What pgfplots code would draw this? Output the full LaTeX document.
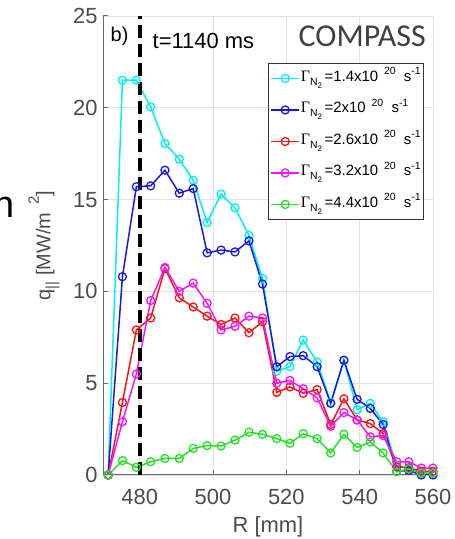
\documentclass[border=0pt]{standalone}
\usepackage{fontspec}
\setmainfont{Liberation Sans}
\newfontfamily\carlito{Carlito}
\newfontfamily\serifgr{Liberation Serif}
\usepackage{pgfplots}
\pgfplotsset{compat=1.18}

\definecolor{ticgray}{RGB}{75,75,75}
\definecolor{axgray}{RGB}{105,105,105}
\definecolor{gridgray}{RGB}{226,226,226}
\definecolor{mcyan}{RGB}{0,240,240}
\definecolor{mblue}{RGB}{25,25,230}
\definecolor{mred}{RGB}{250,20,20}
\definecolor{mmag}{RGB}{245,20,245}
\definecolor{mgreen}{RGB}{35,225,35}

% legend entry: Gamma_{N_2} = <value> x10^20 s^-1
\newcommand{\gn}[1]{{\serifgr\fontsize{16}{18}\selectfont Γ}\raisebox{-0.5ex}{\fontsize{10.5}{11}\selectfont N\raisebox{-0.55ex}{\fontsize{8}{9}\selectfont 2}}\,=#1x10\raisebox{0.85ex}{\fontsize{10.5}{11}\selectfont\ \ 20}\ \ s\raisebox{0.85ex}{\fontsize{10.5}{11}\selectfont -1}}

\pgfplotstableread{
R      cy     bl     rd     mg     gr
471.4  0      0      0      0      0
475.3  21.5   10.8   3.95   2.9    0.78
479.1  21.5   15.7   7.9    5.5    0.42
483.0  20.05  15.75  8.55   9.5    0.72
486.9  18.05  16.6   11.25  11.3   0.9
490.8  17.2   15.35  9.65   10.0   0.9
494.6  16.05  15.6   9.15   10.45  1.45
498.4  13.75  12.1   8.65   9.35   1.6
502.2  15.3   12.25  8.2    7.9    1.58
506.0  14.55  12.15  8.55   8.1    1.9
509.8  13.05  12.75  7.75   8.65   2.33
513.5  10.7   10.4   8.35   8.55   2.22
517.4  5.65   5.9    4.5    5.0    1.98
521.0  5.9    6.45   4.8    5.15   1.73
524.6  7.35   6.5    4.45   4.7    2.25
528.4  6.15   5.9    4.65   4.2    1.98
532.1  3.95   3.9    2.75   2.65   1.2
535.7  6.25   6.25   4.15   3.4    2.22
539.3  3.55   4.12   3.0    3.0    1.5
542.9  3.9    3.63   2.8    2.08   1.8
546.4  2.9    2.75   2.25   2.15   1.2
550.1  0.5    0.2    0.45   0.72   0.18
553.4  0.35   0.25   0.4    0.72   0.33
556.8  0.1    0.0    0.2    0.38   0.1
560.0  0.1    0.0    0.2    0.38   0.1
}\qdata

\begin{document}
\begin{tikzpicture}[x=1bp,y=1bp]
\begin{axis}[
    at={(103bp,64bp)}, anchor=south west,
    scale only axis, width=330bp, height=459bp,
    xmin=470, xmax=560, ymin=0, ymax=25,
    xtick={480,500,520,540,560},
    ytick={0,5,10,15,20,25},
    axis lines*=left,
    axis line style={-, draw=axgray, line width=1bp},
    grid=major,
    major grid style={draw=gridgray, line width=0.9bp},
    tick align=inside,
    major tick length=5bp,
    tick style={draw=axgray, line width=1bp},
    /pgf/number format/assume math mode=true,
    tick label style={font=\fontsize{22}{26}\selectfont, color=ticgray},
    xticklabel style={yshift=-11bp},
    yticklabel style={xshift=-2bp},
    xlabel={R [mm]},
    xlabel style={at={(axis description cs:0.5,0)}, anchor=base, yshift=-57bp,
        font=\fontsize{22}{26}\selectfont, color=ticgray},
    ylabel={q\raisebox{-0.55ex}{\fontsize{15}{16}\selectfont ||}\ [MW/m\raisebox{1.1ex}{\fontsize{15}{16}\selectfont\ \ 2}]},
    ylabel style={at={(axis description cs:-0.179,0.5)}, anchor=center,
        font=\fontsize{20}{24}\selectfont, color=ticgray},
    clip=true,
    legend cell align=left,
    legend style={at={(axis description cs:0.5,0.8976)}, anchor=north west,
        draw=black!80, line width=0.9bp, fill=white,
        font=\fontsize{15}{17}\selectfont,
        inner xsep=2bp, inner ysep=3bp, row sep=7.5bp,
        nodes={inner sep=1bp, text height=14bp, text depth=8bp}},
    legend image code/.code={
        \draw[mark repeat=2, mark phase=2, #1]
        plot coordinates {(0bp,0bp) (14bp,0bp) (28bp,0bp)};},
    every axis plot/.append style={line width=1.5bp, mark=o,
        mark size=4bp, mark options={solid, line width=1.3bp}},
]
\addplot[mcyan] table[x=R, y=cy] {\qdata};
\addplot[mblue] table[x=R, y=bl] {\qdata};
\addplot[mred] table[x=R, y=rd] {\qdata};
\addplot[mmag] table[x=R, y=mg] {\qdata};
\addplot[mgreen] table[x=R, y=gr] {\qdata};
\addplot[black, line width=3.8bp, dash pattern=on 13bp off 6bp, mark=none, forget plot]
    coordinates {(480,0) (480,25)};
\legend{\gn{1.4}, \gn{2}, \gn{2.6}, \gn{3.2}, \gn{4.4}}
\end{axis}
\node[anchor=base west, inner sep=0, font=\fontsize{20}{24}\selectfont] at (110.5,497) {b)};
\node[anchor=base west, inner sep=0, font=\fontsize{22}{26}\selectfont] at (152.5,490.7) {t=1140 ms};
\node[anchor=base west, inner sep=0, font=\carlito\fontsize{32}{36}\selectfont, text=black!75] at (298.5,492.3) {COMPASS};
\node[anchor=base west, inner sep=0, font=\fontsize{38}{40}\selectfont] at (-7,321) {n};
\pgfresetboundingbox
\useasboundingbox (0,0) rectangle (455,539);
\end{tikzpicture}
\end{document}
